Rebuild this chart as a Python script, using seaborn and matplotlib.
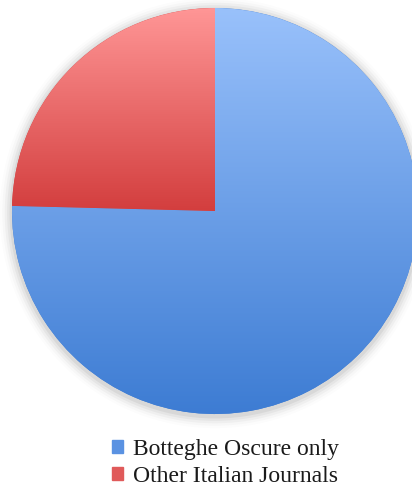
import numpy as np
import seaborn as sns
import matplotlib.pyplot as plt
from matplotlib.colors import LinearSegmentedColormap
from matplotlib.patches import Rectangle

sns.set_theme(style="white")
plt.rcParams['font.family'] = ['Liberation Serif', 'DejaVu Serif']

labels = ["Botteghe Oscure only", "Other Italian Journals"]
shares = [75.4, 24.6]
top_colors = ["#99C1FB", "#FF9696"]
bottom_colors = ["#3D7CD3", "#D33E3E"]

fig = plt.figure(figsize=(4.12, 4.88), dpi=100)
ax = fig.add_axes([0, 0, 1, 1])

wedges, _ = ax.pie(shares, startangle=90, counterclock=False, radius=1,
                   colors=bottom_colors,
                   wedgeprops=dict(linewidth=0))

# soft shadow round the pie
for i, a in enumerate(np.linspace(0.05, 0.01, 5)):
    ax.add_patch(plt.Circle((0.0, -0.01), 1 + 0.012 * (i + 1),
                            color="black", alpha=a, zorder=0, lw=0))

# vertical gradient inside each wedge, over its own bounding box
for w, c0, c1 in zip(wedges, top_colors, bottom_colors):
    verts = w.get_path().vertices
    x0, x1 = verts[:, 0].min(), verts[:, 0].max()
    y0, y1 = verts[:, 1].min(), verts[:, 1].max()
    cmap = LinearSegmentedColormap.from_list("g", [c1, c0])
    grad = np.linspace(0, 1, 256).reshape(-1, 1)
    im = ax.imshow(grad, cmap=cmap, origin="lower", aspect="auto",
                   extent=[x0, x1, y0, y1], zorder=2)
    im.set_clip_path(w)

ax.set_xlim(-215 / 203, (412 - 215) / 203)
ax.set_ylim(-(488 - 211) / 203, 211 / 203)
ax.set_aspect("equal")
ax.axis("off")

handles = [Rectangle((0, 0), 1, 1, color=c) for c in ["#5A92E2", "#E05A5A"]]
fig.legend(handles, labels, loc="upper left", bbox_to_anchor=(112 / 412, 1 - 439 / 488),
           frameon=False, fontsize=17, handlelength=0.47, handleheight=0.47,
           handletextpad=0.4, labelspacing=0.26, borderpad=0, borderaxespad=0,
           labelcolor="#1a1a1a")

fig.savefig("out.png", dpi=100)
